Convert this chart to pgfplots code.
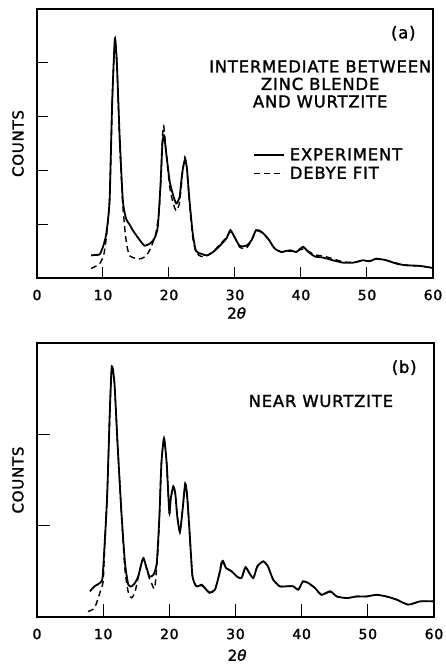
\documentclass[border=0pt]{standalone}
\usepackage{fontspec}
\setmainfont{DejaVu Sans}[LetterSpace=5, FakeBold=1.6]
\usepackage{pgfplots}
\pgfplotsset{compat=1.18}
\newcommand{\lbl}{\fontsize{16.4}{17.5}\selectfont}
\newcommand{\ylbl}{\fontsize{15}{17}\selectfont}
\pgfplotsset{
  xrd/.style={
    anchor=south west, scale only axis,
    xmin=0, xmax=60, ymin=0, ymax=1,
    xtick={0,10,...,60}, yticklabels={},
    tick pos=left, tick align=inside,
    /pgf/number format/assume math mode=true,
    axis line style={line width=1.2pt},
    every tick/.style={black, line width=1pt},
    ticklabel style={font=\fontsize{14}{14}\selectfont},
    xticklabel style={anchor=center, yshift=-17pt},
    every axis y label/.style={at={(axis description cs:-0.048,0.5)}, rotate=90, anchor=center, font=\ylbl},
    ylabel={COUNTS},
  },
  expt/.style={black, line width=1.8pt, smooth, tension=0.35},
  fit/.style={black, line width=1.4pt, dash pattern=on 6pt off 4pt, smooth, tension=0.35},
}
\begin{document}
\begin{tikzpicture}
\useasboundingbox (0,0) rectangle (445pt,664pt);
% (a)
\begin{axis}[xrd, at={(37pt,386pt)}, width=396pt, height=269pt,
  ytick={0.2,0.4,0.6,0.8}, major tick length=11pt,
  every axis x label/.style={at={(axis description cs:0.505,-0.13)}, anchor=center, font=\ylbl},
  xlabel={2\textit{θ}},
  legend style={at={(axis description cs:0.545,0.49)}, anchor=north west, draw=none, fill=none,
    font=\lbl, row sep=1pt, inner sep=0pt},
  legend cell align=left,
  legend image code/.code={\draw[#1] (0pt,0pt) -- (30pt,0pt);},
  legend style={nodes={inner xsep=5pt}},
]
\addplot[expt] coordinates {
(8.2,0.084)(9.0,0.086)(9.5,0.088)(10.0,0.116)(10.5,0.165)(11.0,0.29)(11.4,0.66)(11.8,0.89)(12.1,0.80)(12.5,0.54)(13.0,0.29)(13.5,0.22)(14.0,0.20)(14.5,0.178)(15.0,0.16)(15.6,0.14)(16.3,0.12)(17.1,0.128)(17.8,0.147)(18.3,0.19)(18.7,0.34)(19.0,0.50)(19.25,0.53)(19.6,0.46)(20.1,0.36)(20.6,0.31)(21.1,0.277)(21.6,0.30)(22.0,0.39)(22.4,0.44)(22.7,0.41)(23.1,0.29)(23.6,0.165)(24.1,0.10)(24.9,0.09)(25.7,0.084)(26.7,0.097)(27.7,0.12)(28.7,0.147)(29.3,0.178)(29.9,0.153)(30.7,0.12)(31.7,0.12)(32.5,0.14)(33.2,0.178)(34.0,0.172)(35.0,0.147)(36.0,0.11)(37.0,0.097)(38.3,0.103)(39.3,0.097)(40.3,0.116)(41.1,0.097)(42.1,0.08)(43.3,0.076)(44.8,0.066)(46.4,0.057)(47.9,0.057)(49.4,0.066)(50.4,0.062)(51.4,0.072)(52.9,0.066)(54.5,0.053)(56.0,0.047)(58.0,0.045)(60,0.037)
};
\addlegendentry{EXPERIMENT}
\addplot[fit] coordinates {
(8.2,0.035)(9.0,0.045)(9.5,0.053)(10.1,0.084)(10.5,0.15)(11.0,0.29)(11.4,0.66)(11.8,0.88)(12.1,0.80)(12.5,0.52)(13.0,0.27)(13.5,0.14)(14.0,0.084)(15.1,0.072)(15.8,0.072)(16.6,0.084)(17.3,0.116)(18.0,0.165)(18.5,0.25)(18.8,0.38)(19.0,0.52)(19.2,0.565)(19.6,0.46)(20.1,0.34)(20.6,0.28)(21.1,0.25)(21.6,0.28)(22.0,0.38)(22.4,0.45)(22.7,0.41)(23.1,0.28)(23.6,0.15)(24.1,0.095)(24.9,0.08)(25.7,0.082)(26.7,0.097)(27.7,0.125)(28.7,0.15)(29.3,0.172)(29.9,0.155)(30.7,0.115)(31.7,0.11)(32.5,0.14)(33.2,0.175)(34.0,0.17)(35.0,0.145)(36.0,0.11)(37.0,0.097)(38.3,0.10)(39.3,0.10)(40.3,0.108)(41.1,0.10)(42.1,0.086)(43.3,0.082)(44.8,0.072)(46.4,0.06)(47.9,0.058)(49.4,0.064)(50.4,0.064)(51.4,0.07)(52.9,0.066)(54.5,0.055)(56.0,0.048)(58.0,0.045)(60,0.038)
};
\addlegendentry{DEBYE FIT}
\node[font=\lbl] at (axis cs:55.5,0.91) {(a)};
\node[font=\lbl, align=center] at (axis cs:42.9,0.721) {INTERMEDIATE BETWEEN\\ZINC BLENDE\\AND WURTZITE};
\end{axis}
% (b)
\begin{axis}[xrd, at={(37pt,47pt)}, width=397pt, height=274pt,
  ytick={0.3333,0.6667}, major tick length=13pt,
  every axis x label/.style={at={(axis description cs:0.505,-0.139)}, anchor=center, font=\ylbl},
  xlabel={2\textit{θ}},
]
\addplot[expt] coordinates {
(8.0,0.094)(8.7,0.112)(9.5,0.124)(9.9,0.142)(10.2,0.258)(10.6,0.44)(11.0,0.745)(11.3,0.915)(11.7,0.855)(12.2,0.62)(12.8,0.367)(13.3,0.197)(13.8,0.118)(14.3,0.112)(14.8,0.124)(15.3,0.148)(15.8,0.197)(16.1,0.215)(16.5,0.185)(17.0,0.148)(17.6,0.154)(18.1,0.197)(18.5,0.367)(18.8,0.56)(19.2,0.653)(19.6,0.56)(20.0,0.38)(20.2,0.43)(20.6,0.477)(20.9,0.45)(21.2,0.367)(21.6,0.31)(22.0,0.39)(22.4,0.487)(22.7,0.44)(23.1,0.294)(23.5,0.148)(24.1,0.112)(24.9,0.118)(25.4,0.105)(26.1,0.088)(26.9,0.10)(27.6,0.16)(28.0,0.203)(28.6,0.178)(29.4,0.167)(30.2,0.148)(30.9,0.142)(31.5,0.182)(32.1,0.16)(32.7,0.142)(33.3,0.185)(34.2,0.203)(34.9,0.185)(35.7,0.136)(36.7,0.112)(37.7,0.112)(38.7,0.112)(39.5,0.10)(40.2,0.13)(41.0,0.124)(42.0,0.106)(43.0,0.081)(44.3,0.094)(45.3,0.075)(46.8,0.069)(48.3,0.075)(49.8,0.075)(51.3,0.081)(52.8,0.075)(54.4,0.063)(56.1,0.045)(57.9,0.057)(60,0.057)
};
\addplot[fit] coordinates {
(7.7,0.02)(8.7,0.033)(9.5,0.088)(10.0,0.13)(10.2,0.24)(10.6,0.44)(11.0,0.745)(11.3,0.91)(11.7,0.855)(12.2,0.62)(12.8,0.36)(13.3,0.17)(13.8,0.09)(14.3,0.07)(14.8,0.09)(15.3,0.145)(15.8,0.197)(16.1,0.215)(16.5,0.18)(17.0,0.14)(17.3,0.124)(17.8,0.106)(18.3,0.25)(18.5,0.367)(18.8,0.56)(19.2,0.65)(19.6,0.56)(20.0,0.38)(20.2,0.43)(20.6,0.475)(20.9,0.45)(21.2,0.367)(21.6,0.31)(22.0,0.39)(22.4,0.485)(22.7,0.44)(23.1,0.294)(23.5,0.148)(24.1,0.112)(24.9,0.115)(25.4,0.105)(26.1,0.09)(26.9,0.10)(27.6,0.165)(28.0,0.21)(28.6,0.18)(29.4,0.167)(30.2,0.148)(30.9,0.142)(31.5,0.18)(32.1,0.16)(32.7,0.142)(33.3,0.185)(34.2,0.203)(34.9,0.185)(35.7,0.136)(36.7,0.112)(37.7,0.112)(38.7,0.112)(39.5,0.10)(40.2,0.13)(41.0,0.124)(42.0,0.106)(43.0,0.081)(44.3,0.092)(45.3,0.075)(46.8,0.069)(48.3,0.075)(49.8,0.075)(51.3,0.081)(52.8,0.075)(54.4,0.063)(56.1,0.045)(57.9,0.057)(60,0.057)
};
\node[font=\lbl] at (axis cs:55.5,0.91) {(b)};
\node[font=\lbl] at (axis cs:42.9,0.788) {NEAR WURTZITE};
\end{axis}
\end{tikzpicture}
\end{document}
